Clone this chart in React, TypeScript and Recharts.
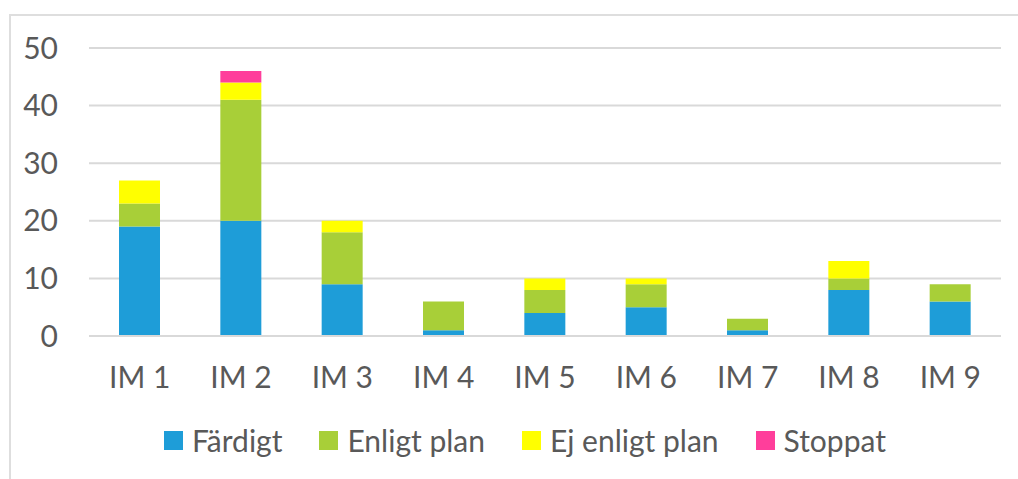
import React from "react";
import { BarChart, Bar, XAxis, YAxis, CartesianGrid, Legend } from "recharts";

const categories = ["IM 1", "IM 2", "IM 3", "IM 4", "IM 5", "IM 6", "IM 7", "IM 8", "IM 9"];
const fardigt = [19, 20, 9, 1, 4, 5, 1, 8, 6];
const enligtPlan = [4, 21, 9, 5, 4, 4, 2, 2, 3];
const ejEnligtPlan = [4, 3, 2, 0, 2, 1, 0, 3, 0];
const stoppat = [0, 2, 0, 0, 0, 0, 0, 0, 0];
const yTicks = [0, 10, 20, 30, 40, 50];

const seriesInfo = [
  { key: "fardigt", name: "Färdigt", color: "#1E9DD8" },
  { key: "enligtPlan", name: "Enligt plan", color: "#A8CF38" },
  { key: "ejEnligtPlan", name: "Ej enligt plan", color: "#FFFF00" },
  { key: "stoppat", name: "Stoppat", color: "#FF3E9B" },
];

const data = categories.map((c, i) => ({
  name: c,
  fardigt: fardigt[i],
  enligtPlan: enligtPlan[i],
  ejEnligtPlan: ejEnligtPlan[i],
  stoppat: stoppat[i],
}));

const FONT = "Lato, 'Open Sans', sans-serif";
const TEXT = "#595959";
const FS = 30;

const LegendContent = () => (
  <div
    style={{
      display: "flex",
      justifyContent: "center",
      alignItems: "center",
      fontFamily: FONT,
      fontSize: FS,
      color: TEXT,
      gap: 37,
    }}
  >
    {seriesInfo.map((s) => (
      <div key={s.key} style={{ display: "flex", alignItems: "center" }}>
        <div style={{ width: 19, height: 19, background: s.color, marginRight: 9 }} />
        <span>{s.name}</span>
      </div>
    ))}
  </div>
);

export default function App() {
  return (
    <div
      style={{
        position: "fixed",
        left: 0,
        top: 0,
        width: 1018,
        height: 479,
        overflow: "hidden",
        background: "#fff",
      }}
    >
      <div
        style={{
          position: "absolute",
          left: 9,
          top: 14,
          width: 1100,
          height: 600,
          border: "2px solid #DEDEDE",
          boxSizing: "border-box",
        }}
      />
      <div style={{ position: "absolute", left: 0, top: 0 }}>
        <BarChart
          width={1018}
          height={479}
          data={data}
          margin={{ top: 48, right: 17, left: 29, bottom: 83 }}
          barSize={41}
        >
          <CartesianGrid vertical={false} stroke="#D9D9D9" strokeWidth={2} />
          <XAxis
            dataKey="name"
            axisLine={{ stroke: "#D9D9D9", strokeWidth: 2 }}
            tickLine={false}
            tickSize={0}
            tickMargin={31}
            height={60}
            tick={{ fill: TEXT, fontSize: FS, fontFamily: FONT }}
          />
          <YAxis
            domain={[0, 50]}
            ticks={yTicks}
            axisLine={false}
            tickLine={false}
            tickSize={0}
            tickMargin={31}
            width={60}
            tick={{ fill: TEXT, fontSize: FS, fontFamily: FONT }}
          />
          <Legend
            layout="horizontal"
            verticalAlign="middle"
            align="center"
            wrapperStyle={{ top: 422, left: 0, width: 1050 }}
            content={<LegendContent />}
          />
          {seriesInfo.map((s) => (
            <Bar
              key={s.key}
              dataKey={s.key}
              name={s.name}
              stackId="a"
              fill={s.color}
              isAnimationActive={false}
            />
          ))}
        </BarChart>
      </div>
    </div>
  );
}
